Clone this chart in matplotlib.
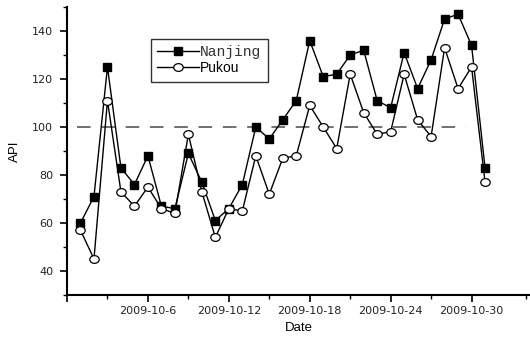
import pandas as pd
import matplotlib
matplotlib.use("Agg")
import matplotlib.pyplot as plt
import matplotlib.dates as mdates
from matplotlib.path import Path
from matplotlib.transforms import Affine2D
from matplotlib.ticker import FuncFormatter, MultipleLocator

# daily API, October 2009
dates = pd.date_range("2009-10-01", "2009-10-31", freq="D")
nanjing = [60, 71, 125, 83, 76, 88, 67, 66, 89, 77, 61, 66, 76, 100, 95, 103,
           111, 136, 121, 122, 130, 132, 111, 108, 131, 116, 128, 145, 147, 134, 83]
pukou = [57, 45, 111, 73, 67, 75, 66, 64, 97, 73, 54, 66, 65, 88, 72, 87,
         88, 109, 100, 91, 122, 106, 97, 98, 122, 103, 96, 133, 116, 125, 77]
threshold = 100

plt.rcParams["font.family"] = ["Liberation Sans", "DejaVu Sans"]

# slightly flattened circle marker
oval = Path.unit_circle().transformed(Affine2D().scale(1.0, 0.82))

fig = plt.figure(figsize=(5.3, 3.37), dpi=100)
ax = fig.add_axes([67 / 530, 42 / 337, 463 / 530, 288 / 337])

ax.plot(dates, nanjing, color="black", lw=1.0, marker="s", ms=5.5,
        mfc="black", mec="black", label="Nanjing", zorder=3)
ax.plot(dates, pukou, color="black", lw=1.0, marker=oval, ms=6.8,
        mfc="white", mec="black", mew=0.9, label="Pukou", zorder=3)

ax.hlines(threshold, pd.Timestamp("2009-09-30 17:00"), pd.Timestamp("2009-10-29 14:00"),
          colors="#707070", linestyles=(0, (7, 5.5)), lw=1.4, zorder=1)

ax.set_xlim(pd.Timestamp("2009-09-30"), pd.Timestamp("2009-11-03 08:00"))
ax.set_ylim(30, 150)

ax.xaxis.set_major_locator(mdates.DayLocator(bymonthday=[6, 12, 18, 24, 30]))
ax.xaxis.set_minor_locator(mdates.DayLocator(bymonthday=[3, 9, 15, 21, 27]))


def day_label(v, pos):
    d = mdates.num2date(v)
    if d.month != 10:
        return ""
    return "{0.year}-{0.month}-{0.day}".format(d)


ax.xaxis.set_major_formatter(FuncFormatter(day_label))
ax.yaxis.set_minor_locator(MultipleLocator(10))
ax.set_yticks([40, 60, 80, 100, 120, 140])

for side in ("top", "right"):
    ax.spines[side].set_visible(False)
for side in ("left", "bottom"):
    ax.spines[side].set_linewidth(1.5)

ax.tick_params(which="major", direction="out", length=5, width=1.2, pad=5)
ax.tick_params(axis="x", which="major", pad=3)
ax.tick_params(which="minor", direction="out", length=3, width=1.0)
for lbl in ax.get_xticklabels() + ax.get_yticklabels():
    lbl.set_family("DejaVu Sans")
    lbl.set_fontsize(8)
    lbl.set_color("#222222")

ax.set_xlabel("Date", fontsize=9.5, labelpad=4)
ax.set_ylabel("API", fontsize=9.5, labelpad=8)

leg = ax.legend(loc="upper left", bbox_to_anchor=(0.181, 0.889), borderaxespad=0,
                frameon=True, fancybox=False, edgecolor="black", handlelength=3.0,
                handletextpad=0.1, borderpad=0.45, labelspacing=0.15, fontsize=10)
leg.get_frame().set_linewidth(1.0)
nj_text, pk_text = leg.get_texts()
nj_text.set_family("Liberation Mono")
nj_text.set_fontsize(10.5)
nj_text.set_color("#333333")

fig.savefig("out.png", dpi=100)
